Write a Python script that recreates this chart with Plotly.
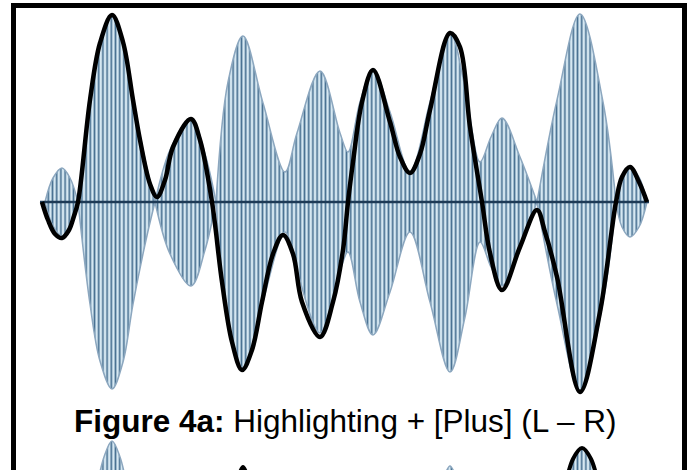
import plotly.graph_objects as go

# ---- data ----
# Blue envelope: sample position and upper amplitude (lower edge mirrors it)
env_t = [45, 53, 62, 70, 78,
         90, 100, 112, 123, 133, 146, 155,
         170, 191, 205, 216,
         228, 243, 263, 285, 297, 320, 340, 348, 360, 373, 390, 410, 430, 450,
         465, 480, 491, 502, 520, 537,
         557, 580, 603, 616,
         622, 630, 639, 647]
env_a = [0, 24, 34, 24, 0,
         102, 159, 187, 160, 102, 38, 0,
         52, 84, 48, 0,
         120, 166, 99, 30, 69, 131, 69, 50, 100, 133, 90, 30, 100, 170,
         115, 40, 65, 84, 45, 0,
         102, 188, 100, 0,
         25, 35, 25, 0]

# Black signal
sig_t = [42, 48, 55, 62, 69, 74, 78, 90, 100, 112, 123, 133, 140, 150, 157,
         165, 173, 191, 200, 212, 222, 232, 242, 252, 262, 273, 283, 293, 302,
         320, 333, 343, 348, 353, 362, 373, 390, 400, 410, 420, 430, 450, 460,
         470, 482, 490, 502, 520, 537, 545, 557, 580, 600, 616, 622, 630, 639,
         647]
sig_v = [0, -18, -32, -36, -28, -14, 0, 102, 159, 187, 160, 102, 62, 18, 5,
         22, 55, 83, 62, 0, -80, -140, -168, -148, -100, -52, -33, -52, -100,
         -135, -100, -48, 0, 40, 100, 132, 80, 45, 29, 48, 92, 169, 155,
         75, 0, -51, -88, -45, -8, -30, -75, -190, -110, 0, 25, 35, 20,
         0]

# Tops of the next figure peeking in below the caption
next_blue_t = [97, 104, 112, 120, 127]
next_blue_v = [-285, -255, -239, -255, -285]
next_blue2_t = [444, 450, 456]
next_blue2_v = [-275, -264, -275]
next_black_t = [564, 573, 582, 591, 600]
next_black_v = [-290, -257, -246, -257, -290]
next_black2_t = [238, 243, 248]
next_black2_v = [-276, -265, -276]

caption_bold = "Figure 4a:"
caption_text = "Highlighting + [Plus] (L – R)"

STEM = "#4a7293"
BG = "#d6e8f2"
EDGE = "#8ca7bf"
pattern = dict(shape="|", size=4.2, solidity=0.4, fgcolor=STEM, bgcolor=BG,
               fillmode="replace")

fig = go.Figure()

# envelope, split into lobes at its zeros
zeros = [i for i, a in enumerate(env_a) if a == 0]
for s, e in zip(zeros[:-1], zeros[1:]):
    ts = env_t[s:e + 1]
    av = env_a[s:e + 1]
    fig.add_trace(go.Scatter(x=ts, y=[-a for a in av], mode="lines",
                             line=dict(color=EDGE, width=1.5, shape="spline"),
                             hoverinfo="skip", showlegend=False))
    fig.add_trace(go.Scatter(x=ts, y=av, mode="lines", fill="tonexty",
                             fillpattern=pattern,
                             line=dict(color=EDGE, width=1.5, shape="spline"),
                             hoverinfo="skip", showlegend=False))

# next-figure fragments
for tt, vv, col in [(next_blue_t, next_blue_v, EDGE),
                    (next_blue2_t, next_blue2_v, EDGE),
                    (next_black_t, next_black_v, "black"),
                    (next_black2_t, next_black2_v, "black")]:
    fig.add_trace(go.Scatter(x=tt, y=vv, mode="lines", fill="toself",
                             fillpattern=pattern,
                             line=dict(color=col, width=1.5 if col == EDGE else 4,
                                       shape="spline"),
                             hoverinfo="skip", showlegend=False))

# horizontal axis line
fig.add_trace(go.Scatter(x=[40, 649], y=[0, 0], mode="lines",
                         line=dict(color="#1d3a56", width=2.5),
                         hoverinfo="skip", showlegend=False))

# black signal
fig.add_trace(go.Scatter(x=sig_t, y=sig_v, mode="lines",
                         line=dict(color="black", width=4.5, shape="spline"),
                         hoverinfo="skip", showlegend=False))

W, H = 691, 470
fig.add_shape(type="rect", xref="paper", yref="paper",
              x0=13.5 / W, x1=684.5 / W, y0=1 - 5.5 / H, y1=-0.2,
              line=dict(color="black", width=5))

fig.add_annotation(xref="paper", yref="paper", x=345 / W, y=1 - 421 / H,
                   text=f"<b>{caption_bold}</b> {caption_text}",
                   showarrow=False, xanchor="center", yanchor="middle",
                   font=dict(family="Liberation Sans, Arial", size=31.5,
                             color="black"))

fig.update_layout(width=W, height=H, margin=dict(l=0, r=0, t=0, b=0),
                  paper_bgcolor="white", plot_bgcolor="white",
                  xaxis=dict(range=[0, W], visible=False, fixedrange=True),
                  yaxis=dict(range=[202 - H, 202], visible=False,
                             fixedrange=True),
                  showlegend=False)

fig.write_html("out.html", config={"displayModeBar": False},
               post_script="document.body.style.margin='0';"
                           "document.body.style.overflow='hidden';")
